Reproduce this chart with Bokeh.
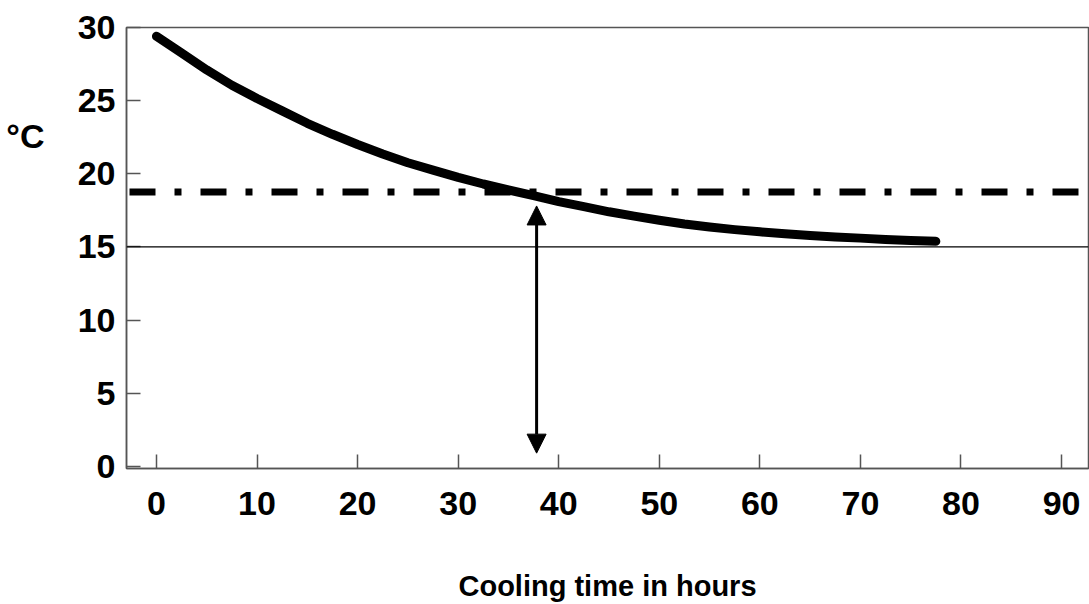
from bokeh.plotting import figure
from bokeh.models import (Arrow, NormalHead, Span, FixedTicker, Range1d, ColumnDataSource,
                          LinearAxis, CustomJSTickFormatter)
from bokeh.embed import file_html
from bokeh.resources import INLINE

# ---- data ----
hours = [0, 2.5, 5, 7.5, 10, 12.5, 15, 17.5, 20, 22.5, 25, 27.5, 30, 32.5, 35, 37.5, 40,
         42.5, 45, 47.5, 50, 52.5, 55, 57.5, 60, 62.5, 65, 67.5, 70, 72.5, 75, 77.5]
temp_c = [29.4, 28.25, 27.1, 26.05, 25.15, 24.3, 23.45, 22.7, 22.0, 21.35, 20.75, 20.25,
          19.75, 19.3, 18.9, 18.5, 18.1, 17.75, 17.4, 17.1, 16.82, 16.57, 16.36, 16.18,
          16.03, 15.9, 15.78, 15.68, 15.6, 15.5, 15.43, 15.38]
ambient_temp = 15.0
threshold_temp = 18.75
arrow_hour = 37.8
arrow_low = 0.9
arrow_high = 17.8
x_ticks = [0, 10, 20, 30, 40, 50, 60, 70, 80, 90]
y_ticks = [0, 5, 10, 15, 20, 25, 30]
unit_label_pos = [22.6]
y_unit_label = "°C"
x_title = "Cooling time in hours"

FONT = "Liberation Sans"
AXIS_GRAY = "#555555"

p = figure(width=1089, height=604, output_backend="svg", toolbar_location=None,
           x_range=Range1d(-2.98, 92.68), y_range=Range1d(-0.15, 30.0),
           min_border_left=126, min_border_right=1, min_border_top=27, min_border_bottom=136)
p.grid.visible = False
p.background_fill_color = "white"
p.border_fill_color = "white"
p.outline_line_color = AXIS_GRAY
p.outline_line_width = 1.5

src = ColumnDataSource(dict(x=hours, y=temp_c))
p.line("x", "y", source=src, line_color="black", line_width=9, line_cap="round", line_join="round")

p.add_layout(Span(location=ambient_temp, dimension="width", line_color="black", line_width=1.2))
p.add_layout(Span(location=threshold_temp, dimension="width", line_color="black", line_width=7,
                  line_dash="26 19 7 19", line_dash_offset=68))

p.add_layout(Arrow(start=NormalHead(size=19, fill_color="black", line_color="black"),
                   end=NormalHead(size=19, fill_color="black", line_color="black"),
                   x_start=arrow_hour, y_start=arrow_low, x_end=arrow_hour, y_end=arrow_high,
                   line_width=3, line_color="black"))

for ax in (p.xaxis[0], p.yaxis[0]):
    ax.axis_line_color = AXIS_GRAY
    ax.axis_line_width = 1.5
    ax.major_tick_line_color = AXIS_GRAY
    ax.major_tick_line_width = 1.5
    ax.major_tick_in = 14
    ax.major_tick_out = 0
    ax.minor_tick_line_color = None
    ax.major_label_text_font = FONT
    ax.major_label_text_font_style = "bold"
    ax.major_label_text_color = "black"
    ax.major_label_text_font_size = "34px"

p.xaxis.ticker = FixedTicker(ticks=x_ticks)
p.yaxis.ticker = FixedTicker(ticks=y_ticks)
p.xaxis.major_label_standoff = 23
p.yaxis.major_label_standoff = 11

p.xaxis.axis_label = x_title
p.xaxis.axis_label_text_font = FONT
p.xaxis.axis_label_text_font_style = "bold"
p.xaxis.axis_label_text_font_size = "29px"
p.xaxis.axis_label_text_color = "black"
p.xaxis.axis_label_standoff = 52

# horizontal unit label "°C" drawn as a second left axis
unit_axis = LinearAxis(ticker=FixedTicker(ticks=unit_label_pos),
                       formatter=CustomJSTickFormatter(code="return '%s';" % y_unit_label),
                       axis_line_color=None, major_tick_line_color=None, minor_tick_line_color=None,
                       major_tick_in=0, major_tick_out=0, major_label_standoff=30,
                       major_label_text_font=FONT, major_label_text_font_style="bold",
                       major_label_text_font_size="34px", major_label_text_color="black")
p.add_layout(unit_axis, "left")

open("out.html", "w").write(file_html(p, INLINE))
